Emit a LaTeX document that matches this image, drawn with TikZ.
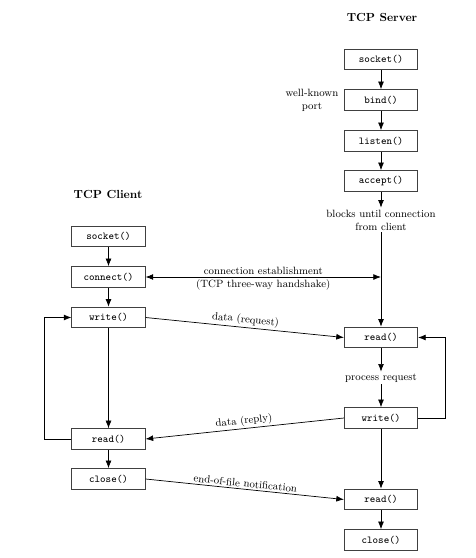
\documentclass[tikz,border=0pt]{standalone}
\usepackage{tikz}
\usetikzlibrary{arrows.meta,positioning}

\tikzset{
  fn/.style={draw=black!75,line width=0.7pt,minimum width=2.2cm,minimum height=0.62cm,
    inner sep=0pt,font=\small\ttfamily},
  lbl/.style={font=\small,inner sep=1.5pt},
  ttl/.style={font=\bfseries}
}

\begin{document}
\begin{tikzpicture}[x=0.03cm,y=-0.03cm,>={Latex[length=6.5pt,width=5pt]},semithick]
	\useasboundingbox (0,0) rectangle (476,558);
	
	% server side
	\node[ttl] (srvt) at (382,17) {TCP Server};
	\node[fn] (ssock) at (381,59.5) {socket()};
	\node[fn] (sbind) at (381,100) {bind()};
	\node[fn] (slist) at (381,141) {listen()};
	\node[fn] (sacc) at (381,181) {accept()};
	\node[lbl,align=center] (blk) at (381,220) {blocks until connection\\from client};
	\node[fn] (sread) at (381,337.5) {read()};
	\node[lbl] (proc) at (381,378) {process request};
	\node[fn] (swrite) at (381,418) {write()};
	\node[fn] (sread2) at (381,499.5) {read()};
	\node[fn] (sclose) at (381,540) {close()};
	\node[lbl,align=center,left=3pt of sbind] (port) {well-known\\port};
	
	% client side
	\node[ttl] (clit) at (108,194) {TCP Client};
	\node[fn] (csock) at (108.5,236.5) {socket()};
	\node[fn] (cconn) at (108.5,277) {connect()};
	\node[fn] (cwrite) at (108.5,317.5) {write()};
	\node[fn] (cread) at (108.5,439) {read()};
	\node[fn] (cclose) at (108.5,479) {close()};
	
	\draw[->] (ssock)--(sbind);
	\draw[->] (sbind)--(slist);
	\draw[->] (slist)--(sacc);
	\draw[->] (sacc)--(blk);
	\draw[->] (blk)--(sread);
	\draw[->] (sread)--(proc);
	\draw[->] (proc)--(swrite);
	\draw[->] (swrite)--(sread2);
	\draw[->] (sread2)--(sclose);
	\draw[->] (swrite.east)--++(27,0) |- (sread.east);
	
	\draw[->] (csock)--(cconn);
	\draw[->] (cconn)--(cwrite);
	\draw[->,thin] (cwrite)--(cread);
	\draw[->] (cread)--(cclose);
	\draw[->] (cread.west)--++(-27,0) |- (cwrite.west);
	
	% messages between the two
	\coordinate (hs) at (cconn.east -| sacc);
	\draw[<->] (cconn.east)--(hs)
		node[midway,above,lbl] {connection establishment}
		node[midway,below,lbl] {(TCP three-way handshake)};
	\draw[->] (cwrite.east)--(sread.west) node[midway,above,sloped,lbl] {data (request)};
	\draw[->] (swrite.west)--(cread.east) node[midway,above,sloped,lbl] {data (reply)};
	\draw[->] (cclose.east)--(sread2.west) node[midway,above,sloped,lbl] {end-of-file notification};
\end{tikzpicture}
\end{document}
